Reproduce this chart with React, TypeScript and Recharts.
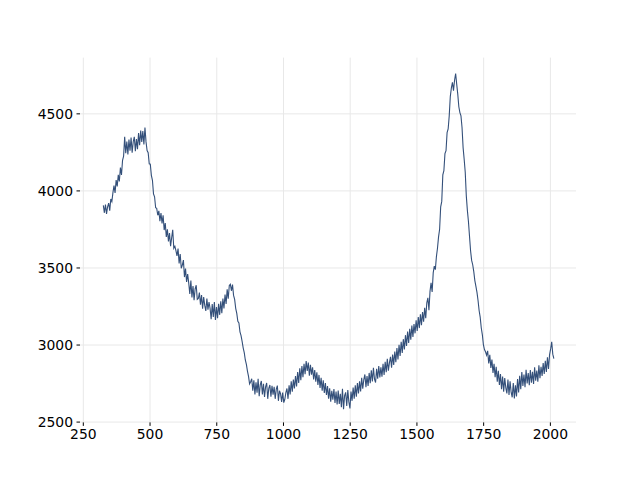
import { LineChart, Line, XAxis, YAxis, CartesianGrid } from 'recharts'

// sampling grid of the spectrum (x = X_START + i * X_STEP)
const X_START = 325
const X_STEP = 4

const intensity = [
  3906, 3858, 3912, 3851, 3897, 3921, 3872, 3948, 3931, 3989,
  4034, 3987, 4071, 4029, 4104, 4061, 4152, 4103, 4198, 4226,
  4352, 4244, 4321, 4236, 4334, 4261, 4347, 4248, 4319, 4351,
  4258, 4337, 4271, 4376, 4296, 4392, 4318, 4389, 4302, 4412,
  4318, 4262, 4248, 4176, 4173, 4101, 4069, 3981, 3962, 3891,
  3887, 3842, 3871, 3803, 3856, 3789, 3842, 3746, 3791, 3702,
  3751, 3672, 3727, 3641, 3696, 3748, 3628, 3641, 3612, 3578,
  3626, 3529, 3591, 3498, 3518, 3551, 3441, 3496, 3409, 3461,
  3402, 3331, 3418, 3309, 3382, 3291, 3364, 3388, 3296, 3302,
  3341, 3262, 3324, 3236, 3312, 3257, 3221, 3302, 3229, 3279,
  3238, 3168, 3266, 3182, 3279, 3162, 3247, 3174, 3268, 3196,
  3284, 3206, 3302, 3238, 3328, 3267, 3361, 3301, 3386, 3394,
  3352, 3392, 3322, 3296, 3238, 3205, 3154, 3144, 3086, 3061,
  3024, 2982, 2951, 2903, 2874, 2831, 2797, 2748, 2762, 2781,
  2704, 2771, 2679, 2758, 2691, 2781, 2668, 2742, 2767, 2679,
  2748, 2663, 2729, 2754, 2651, 2719, 2741, 2664, 2736, 2678,
  2729, 2651, 2714, 2737, 2638, 2703, 2684, 2631, 2691, 2626,
  2648, 2692, 2718, 2651, 2739, 2679, 2764, 2697, 2776, 2718,
  2798, 2731, 2824, 2754, 2849, 2771, 2864, 2792, 2879, 2811,
  2896, 2832, 2887, 2801, 2872, 2808, 2856, 2776, 2838, 2762,
  2823, 2741, 2806, 2722, 2788, 2704, 2771, 2689, 2754, 2676,
  2734, 2652, 2719, 2633, 2703, 2646, 2714, 2624, 2698, 2614,
  2704, 2618, 2683, 2597, 2716, 2583, 2672, 2693, 2604, 2708,
  2631, 2588, 2698, 2638, 2724, 2651, 2738, 2664, 2753, 2686,
  2764, 2699, 2788, 2716, 2776, 2809, 2727, 2798, 2734, 2819,
  2752, 2836, 2764, 2853, 2779, 2757, 2846, 2781, 2864, 2789,
  2856, 2794, 2878, 2806, 2891, 2823, 2911, 2834, 2886, 2924,
  2853, 2939, 2871, 2958, 2889, 2981, 2907, 3002, 2929, 3021,
  2949, 3038, 2971, 3064, 2994, 3087, 3013, 3106, 3034, 3127,
  3053, 3136, 3076, 3161, 3091, 3181, 3110, 3199, 3128, 3214,
  3151, 3241, 3174, 3274, 3306, 3226, 3348, 3403, 3344, 3468,
  3512, 3489, 3574, 3628, 3702, 3751, 3897, 3932, 4104, 4131,
  4242, 4261, 4378, 4402, 4487, 4612, 4668, 4704, 4651, 4718,
  4762, 4693, 4628, 4546, 4508, 4487, 4412, 4281, 4205, 4121,
  3968, 3874, 3802, 3706, 3612, 3549, 3521, 3476, 3418, 3381,
  3342, 3289, 3224, 3181, 3112, 3068, 3003, 2971, 2956, 2934,
  2962, 2881, 2937, 2852, 2906, 2819, 2878, 2791, 2859, 2762,
  2833, 2741, 2811, 2714, 2796, 2697, 2785, 2724, 2686, 2776,
  2676, 2764, 2694, 2661, 2754, 2654, 2738, 2667, 2779, 2692,
  2801, 2714, 2825, 2735, 2808, 2727, 2840, 2751, 2818, 2740,
  2838, 2755, 2826, 2747, 2855, 2769, 2834, 2762, 2869, 2784,
  2859, 2800, 2883, 2812, 2898, 2826, 2921, 2845, 2938, 2975,
  3021, 2941, 2912,
]

const xTicks = [250, 500, 750, 1000, 1250, 1500, 1750, 2000]
const yTicks = [2500, 3000, 3500, 4000, 4500]

const data = intensity.map((y, i) => ({ x: X_START + i * X_STEP, y }))

const tickStyle = { fill: '#000', fontSize: 13.9, fontFamily: 'DejaVu Sans' }

export default function App() {
  return (
    <div>
      <style>{'body{margin:0}'}</style>
      <LineChart
        width={640}
        height={480}
        data={data}
        margin={{ top: 57.6, right: 64, bottom: 27.6, left: 0 }}
      >
        <CartesianGrid stroke="#e8e8e8" strokeWidth={1} syncWithTicks />
        <XAxis
          type="number"
          dataKey="x"
          domain={[237.6, 2096]}
          ticks={xTicks}
          allowDataOverflow
          axisLine={false}
          tickLine={{ stroke: '#000' }}
          tickSize={3.5}
          tickMargin={3.5}
          tick={tickStyle}
          height={30}
        />
        <YAxis
          type="number"
          domain={[2498, 4865]}
          ticks={yTicks}
          allowDataOverflow
          axisLine={false}
          tickLine={{ stroke: '#000' }}
          tickSize={3.5}
          tickMargin={3.5}
          tick={tickStyle}
          width={80}
        />
        <Line
          type="linear"
          dataKey="y"
          stroke="#34507a"
          strokeWidth={1.1}
          dot={false}
          isAnimationActive={false}
        />
      </LineChart>
    </div>
  )
}
